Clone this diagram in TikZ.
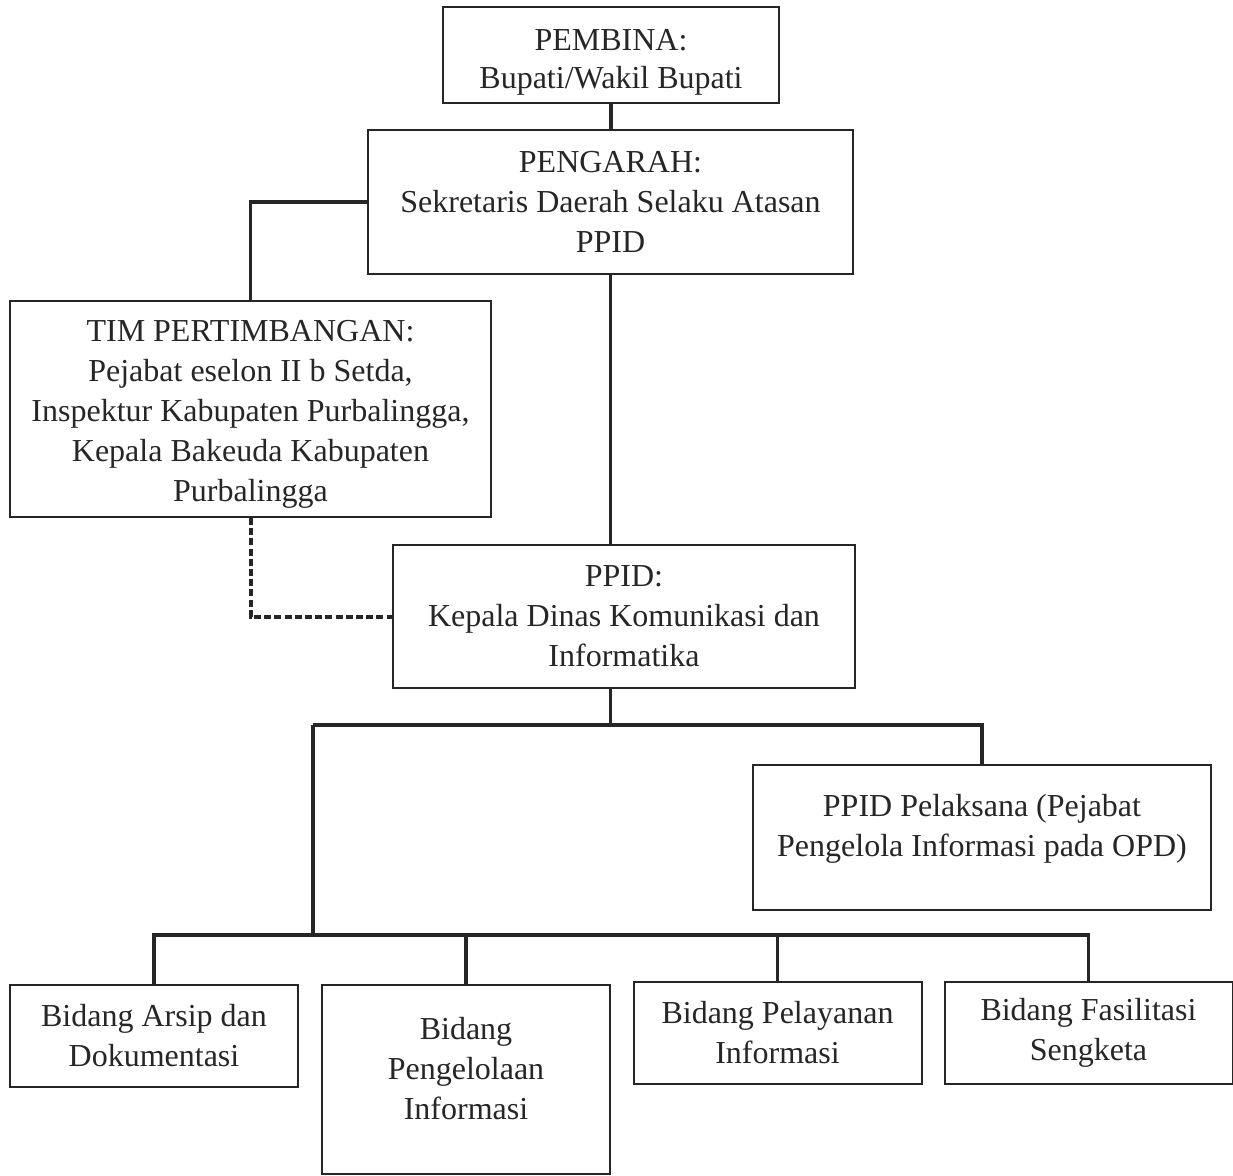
\documentclass[tikz,border=0pt]{standalone}
\usepackage{fontspec}
\setmainfont{Liberation Serif}
\begin{document}
\begin{tikzpicture}[x=0.5pt, y=-0.5pt]
    \tikzset{
      teks/.style={align=center, inner sep=0pt, text=black!85,
        font=\fontsize{16}{20}\selectfont},
      kotak/.style={teks, draw=black!85, line width=1pt},
      bidang/.style={kotak, minimum width=144pt, minimum height=51pt},
      garis/.style={draw=black!85, line width=1.7pt},
      putus/.style={garis, line width=2pt, dash pattern=on 3.5pt off 1.6pt},
    }
    \useasboundingbox (0,0) rectangle (1233,1175);

    \node[kotak, minimum width=168pt, minimum height=48pt,
      label={[teks, yshift=-3.5pt, font=\fontsize{16}{19}\selectfont]center:{PEMBINA:\\Bupati/Wakil Bupati}}]
      (pembina) at (611,55) {};
    \node[kotak, minimum width=242.5pt, minimum height=72pt] (pengarah) at (610.5,202)
      {PENGARAH:\\Sekretaris Daerah Selaku Atasan\\PPID};
    \node[kotak, minimum width=240.5pt, minimum height=108pt,
      label={[teks, yshift=-2.5pt]center:{TIM PERTIMBANGAN:\\Pejabat eselon II b Setda,\\Inspektur Kabupaten Purbalingga,\\Kepala Bakeuda Kabupaten\\Purbalingga}}]
      (tim) at (250.5,409) {};
    \node[kotak, minimum width=231pt, minimum height=71.5pt] (ppid) at (624,616.5)
      {PPID:\\Kepala Dinas Komunikasi dan\\Informatika};
    \node[kotak, minimum width=229pt, minimum height=72.5pt] (pelaksana) at (982,837.5)
      {PPID Pelaksana (Pejabat\\Pengelola Informasi pada OPD)\\[-8pt]\mbox{}};

    \node[bidang] (b1) at (154,1036) {Bidang Arsip dan\\Dokumentasi};
    \node[bidang, minimum height=94.5pt] (b2) at (466,1079.5)
      {Bidang\\Pengelolaan\\Informasi\\[-9pt]\mbox{}};
    \node[bidang] (b3) at (777.5,1033) {Bidang Pelayanan\\Informasi};
    \node[bidang] (b4) at (1088.5,1032.5) {Bidang Fasilitasi\\Sengketa};

    \coordinate (cabang) at (313,725);
    \coordinate (rel) at (157,935);

    \draw[garis] (pembina.south) -- (pembina.south |- pengarah.north);
    \draw[garis] (pengarah.west) -| (tim.north);
    \draw[garis] (pengarah.south) -- (pengarah.south |- ppid.north);
    \draw[putus] (tim.south) |- (ppid.west);
    \draw[garis] (pengarah.south |- ppid.south) -- (pengarah.south |- cabang);
    \draw[garis] (cabang) -| (pelaksana.north);
    \draw[garis] (cabang) -- (cabang |- rel);
    \draw[garis] (b1.north) |- (b4.north |- rel) -- (b4.north);
    \foreach \n in {b2,b3} \draw[garis] (\n.north) -- (\n.north |- rel);
  \end{tikzpicture}
\end{document}
